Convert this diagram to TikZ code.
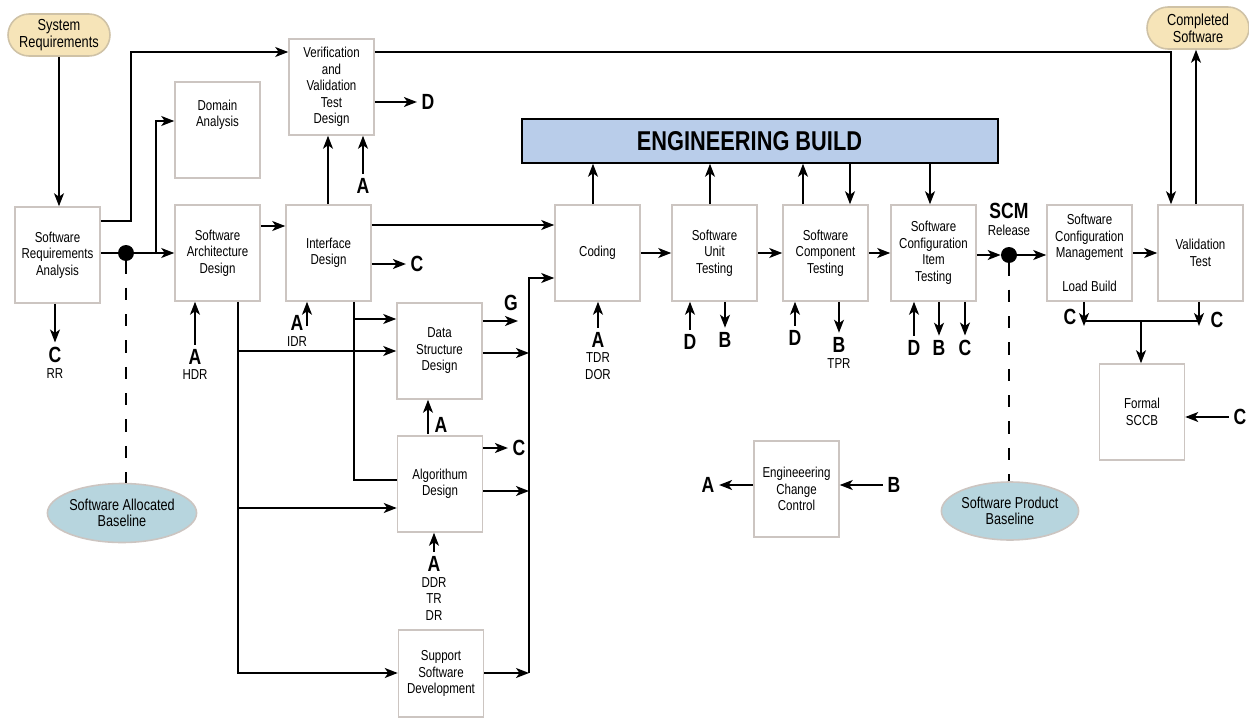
\documentclass[tikz,border=0pt]{standalone}
\usepackage{fontspec}
\setmainfont{Liberation Sans}[FakeStretch=0.8]
\usepackage{tikz}
\usetikzlibrary{arrows.meta,positioning,calc,shapes.geometric}
\definecolor{boxgray}{HTML}{CCC5C1}
\definecolor{sand}{HTML}{F6E4B8}
\definecolor{sandedge}{HTML}{CFC2A6}
\definecolor{iceblue}{HTML}{B7D5DE}
\definecolor{buildblue}{HTML}{B9CDEA}
\begin{document}
\begin{tikzpicture}[x=0.02cm,y=-0.02cm,every node/.style={align=center,font=\fontsize{8.2}{9.4}\selectfont},box/.style={draw=boxgray,line width=0.9pt,fill=white,minimum width=1.7cm,minimum height=1.92cm,inner sep=1pt},pill/.style={draw=sandedge,line width=0.9pt,fill=sand,rounded corners=0.42cm,minimum width=2.04cm,minimum height=0.84cm,inner sep=1pt,font=\fontsize{9.1}{9.6}\selectfont},base/.style={ellipse,draw=boxgray,line width=0.9pt,fill=iceblue,minimum width=2.64cm,minimum height=1.18cm,inner sep=0pt,font=\fontsize{9}{9.4}\selectfont},build/.style={draw=black,line width=0.9pt,fill=buildblue,minimum width=9.52cm,minimum height=0.88cm,font=\bfseries\fontsize{15.5}{16}\selectfont},dot/.style={circle,fill=black,minimum size=0.32cm,inner sep=0pt},lbl/.style={font=\bfseries\fontsize{12.5}{13}\selectfont,inner sep=2.5pt},tag/.style={font=\fontsize{8.2}{9.4}\selectfont,inner sep=0.5pt},arr/.style={-{Stealth[length=2.6mm,width=2mm,inset=0.7mm]},line width=0.85pt},wire/.style={line width=0.85pt},baseline link/.style={line width=0.8pt,dash pattern=on 7pt off 8pt}]
\useasboundingbox (0,0) rectangle (1249,720);
\node[pill] (sysreq) at (59,35) {System\\Requirements};
\node[pill] (done) at (1198,28) {Completed\\Software};
\node[box] (sra) at (57.5,255) {Software\\Requirements\\Analysis};
\node[box] (domain) at (217.5,130) {Domain\\Analysis\\[9.8pt]\mbox{}};
\node[box] (arch) at (217.5,253) {Software\\Architecture\\Design};
\node[box] (vvtd) at (331.5,87) {Verification\\and\\Validation\\Test\\Design};
\node[box] (iface) at (328.5,253) {Interface\\Design};
\node[box] (dsd) at (439.5,351) {Data\\Structure\\Design};
\node[box] (algo) at (440,484) {Algorithum\\Design};
\node[box,minimum height=1.74cm] (ssd) at (441,673.5) {Support\\Software\\Development};
\node[box] (coding) at (597.5,253) {Coding};
\node[box] (unit) at (714.5,253) {Software\\Unit\\Testing};
\node[box] (comp) at (825.5,253) {Software\\Component\\Testing};
\node[box] (scit) at (933.5,253) {Software\\Configuration\\Item\\Testing};
\node[box] (scmgt) at (1089.5,253) {Software\\Configuration\\Management\\[9.6pt]Load Build};
\node[box] (valid) at (1200.5,253) {Validation\\Test};
\node[box] (sccb) at (1142,412) {Formal\\SCCB};
\node[box] (ecc) at (796.5,489) {Engineeering\\Change\\Control};
\node[build] (build) at (760,141) {ENGINEERING BUILD\hspace*{0.42cm}};
\node[dot] (adot) at (126,253) {};
\node[dot] (scm) at (1009,255) {};
\node[base] (alloc) at (122,513) {Software Allocated\\Baseline};
\node[base,minimum width=2.62cm,minimum height=1.16cm] (prodbase) at (1010,511) {Software Product\\Baseline};
\node[lbl] (crr) at (55,355) {C};
\node[tag] (rr) at (55,374) {RR};
\node[lbl] (ahdr) at (195,357) {A};
\node[tag] (hdr) at (195,375) {HDR};
\node[lbl] (aidr) at (297,323) {A};
\node[tag] (idr) at (297,342) {IDR};
\coordinate (aidrt) at (307,326);
\node[lbl] (avv) at (363,186) {A};
\node[lbl] (dvv) at (428,102) {D};
\node[lbl] (cif) at (417,264) {C};
\node[lbl] (g) at (511,303) {G};
\coordinate (gtip) at (518,321);
\node[lbl] (aalg) at (441,425) {A};
\coordinate (aalgt) at (428,434);
\node[lbl] (calg) at (519,448) {C};
\node[lbl] (addr) at (434,564) {A};
\node[tag] (ddr) at (434,599) {DDR\\TR\\DR};
\node[lbl] (atdr) at (598,340) {A};
\node[tag] (tdr) at (598,366) {TDR\\DOR};
\node[lbl] (dunit) at (690,342) {D};
\node[lbl] (bunit) at (725,340) {B};
\node[lbl] (dcomp) at (795,338) {D};
\node[lbl] (bcomp) at (839,345) {B};
\node[tag] (tpr) at (839,364) {TPR};
\node[lbl] (dscit) at (914,348) {D};
\node[lbl] (bscit) at (939,348) {B};
\node[lbl] (cscit) at (965,348) {C};
\node[lbl] (scmlbl) at (1009,211) {SCM};
\node[tag] (release) at (1009,230) {Release};
\node[lbl] (cmgt) at (1070,317) {C};
\node[lbl] (cval) at (1217,320) {C};
\node[lbl] (csccb) at (1240,417) {C};
\node[lbl] (aecc) at (708,485) {A};
\node[lbl] (becc) at (894,485) {B};
\coordinate (bustop) at (529,278);
\coordinate (busbot) at (529,673);
\coordinate (join) at (1141,321);
\coordinate (cml) at (1084,326);
\coordinate (cmr) at (1199,326);
\draw[arr] (sysreq) -- (sysreq |- sra.north);
\draw[arr] (sra.east |- 0,221) -- (131,221) |- (vvtd.west |- 0,52);
\draw[arr] (sra.east |- adot) -- (adot -| arch.west);
\draw[arr] (156,253) |- (domain.west |- 0,121);
\draw[baseline link] (adot) -- (adot |- alloc.north);
\draw[arr] (sra.south -| crr) -- (crr.north);
\draw[arr] (ahdr.north) -- (ahdr.north |- arch.south);
\draw[arr] (arch.east |- 0,226) -- (iface.west |- 0,226);
\draw[arr] (iface.north -| 328,0) -- (328,0 |- vvtd.south);
\draw[arr] (avv.north) -- (avv.north |- vvtd.south);
\draw[arr] (vvtd.east |- dvv) -- (dvv.west);
\draw[arr] (vvtd.east |- 0,52) -| (valid.north -| 1171,0);
\draw[arr] (iface.east |- 0,225) -- (coding.west |- 0,225);
\draw[arr] (iface.east |- cif) -- (cif.west);
\draw[arr] (aidrt) -- (aidrt |- iface.south);
\draw[wire] (iface.south -| 354,0) |- (algo.west |- 0,480);
\draw[arr] (354,319) -- (dsd.west |- 0,319);
\draw[arr] (arch.south -| 238,0) |- (ssd.west |- busbot);
\draw[arr] (238,351) -- (dsd.west |- 0,351);
\draw[arr] (238,508) -- (algo.west |- 0,508);
\draw[arr] (dsd.east |- gtip) -- (gtip);
\draw[arr] (dsd.east |- 0,353) -- (bustop |- 0,353);
\draw[arr] (aalgt) -- (aalgt |- dsd.south);
\draw[arr] (algo.east |- calg) -- (calg.west);
\draw[arr] (algo.east |- 0,491) -- (bustop |- 0,491);
\draw[arr] (addr.north) -- (addr.north |- algo.south);
\draw[arr] (ssd.east |- busbot) -- (busbot);
\draw[arr] (busbot) -- (bustop) -- (bustop -| coding.west);
\draw[arr] (coding.north -| 593,0) -- (593,0 |- build.south);
\draw[arr] (atdr.north) -- (atdr.north |- coding.south);
\draw[arr] (coding.east) -- (coding.east -| unit.west);
\draw[arr] (unit.north -| 710,0) -- (710,0 |- build.south);
\draw[arr] (dunit.north) -- (dunit.north |- unit.south);
\draw[arr] (unit.south -| bunit) -- (bunit.north);
\draw[arr] (unit.east) -- (unit.east -| comp.west);
\draw[arr] (comp.north -| 803,0) -- (803,0 |- build.south);
\draw[arr] (build.south -| 850,0) -- (850,0 |- comp.north);
\draw[arr] (dcomp.north) -- (dcomp.north |- comp.south);
\draw[arr] (comp.south -| bcomp) -- (bcomp.north);
\draw[arr] (comp.east) -- (comp.east -| scit.west);
\draw[arr] (build.south -| 930,0) -- (930,0 |- scit.north);
\draw[arr] (dscit.north) -- (dscit.north |- scit.south);
\draw[arr] (scit.south -| bscit) -- (bscit.north);
\draw[arr] (scit.south -| cscit) -- (cscit.north);
\draw[arr] (scit.east |- scm) -- (scm.west);
\draw[baseline link] (scm) -- (scm |- prodbase.north);
\draw[arr] (scm.east) -- (scm.east -| scmgt.west);
\draw[arr] (scmgt.east) -- (scmgt.east -| valid.west);
\draw[arr] (valid.north -| 1196,0) -- (1196,0 |- done.south);
\draw[arr] (scmgt.south -| cml) -- (cml);
\draw[arr] (valid.south -| cmr) -- (cmr);
\draw[wire] (cml |- join) -- (cmr |- join);
\draw[arr] (join) -- (join |- sccb.north);
\draw[arr] (csccb.west) -- (csccb.west -| sccb.east);
\draw[arr] (ecc.west |- aecc) -- (aecc.east);
\draw[arr] (becc.west) -- (becc.west -| ecc.east);
\end{tikzpicture}
\end{document}
